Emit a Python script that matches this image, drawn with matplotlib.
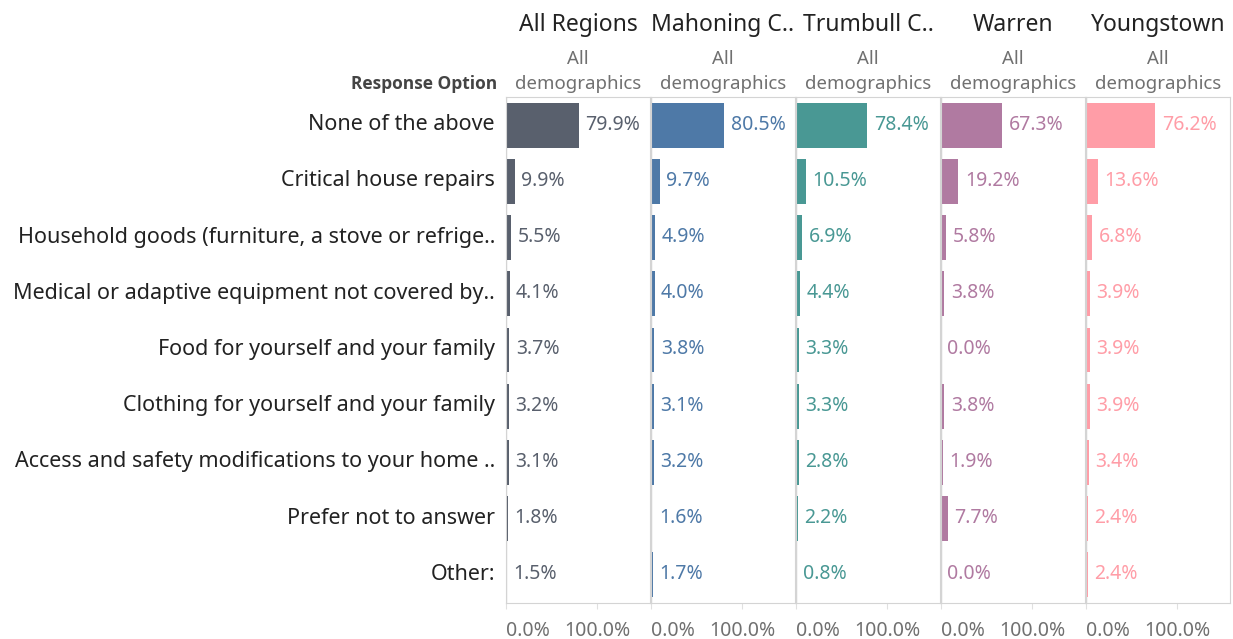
import matplotlib.pyplot as plt
import numpy as np
from matplotlib.transforms import ScaledTranslation

plt.rcParams['font.family'] = ['Noto Sans', 'DejaVu Sans']

# categories (top to bottom) and panel data
options = ['None of the above', 'Critical house repairs',
           'Household goods (furniture, a stove or refrige..',
           'Medical or adaptive equipment not covered by..',
           'Food for yourself and your family',
           'Clothing for yourself and your family',
           'Access and safety modifications to your home ..',
           'Prefer not to answer', 'Other:']
regions = ['All Regions', 'Mahoning C..', 'Trumbull C..', 'Warren', 'Youngstown']
all_regions = [79.9, 9.9, 5.5, 4.1, 3.7, 3.2, 3.1, 1.8, 1.5]
mahoning = [80.5, 9.7, 4.9, 4.0, 3.8, 3.1, 3.2, 1.6, 1.7]
trumbull = [78.4, 10.5, 6.9, 4.4, 3.3, 3.3, 2.8, 2.2, 0.8]
warren = [67.3, 19.2, 5.8, 3.8, 0.0, 3.8, 1.9, 7.7, 0.0]
youngstown = [76.2, 13.6, 6.8, 3.9, 3.9, 3.9, 3.4, 2.4, 2.4]
colors = ['#59606d', '#4e79a7', '#499894', '#b07aa1', '#ff9da7']
series = [all_regions, mahoning, trumbull, warren, youngstown]

W, H = 1233, 639
fig = plt.figure(figsize=(W / 100, H / 100), dpi=100)

top_px, bot_px = 97, 603
x0_px, panel_w, pitch = 506, 144, 145
xmax = panel_w / 91.0  # 100% spans ~91 px
y = np.arange(len(options))
up = ScaledTranslation(0, 0.005, fig.dpi_scale_trans)  # tiny nudge up

for i, (name, vals, col) in enumerate(zip(regions, series, colors)):
    left = x0_px + i * pitch
    ax = fig.add_axes([left / W, 1 - bot_px / H, panel_w / W, (bot_px - top_px) / H])
    v = np.array(vals) / 100.0
    ax.barh(y, v, height=0.8, color=col)
    for yi, val in zip(y, vals):
        ax.text(val / 100.0 + 0.07, yi, f'{val:.1f}%', va='center', ha='left',
                color=col, fontsize=14, transform=ax.transData + up)
    ax.set_xlim(0, xmax)
    ax.set_ylim(len(options) - 0.5, -0.5)
    ax.axvline(0, color='#d4d4d4', lw=1, zorder=0)
    for s in ['top', 'bottom', 'left', 'right']:
        ax.spines[s].set_color('#d4d4d4')
    ax.set_xticks([0, 1])
    ax.set_xticklabels(['0.0%', '100.0%'], color='#707070', fontsize=14)
    ax.get_xticklabels()[0].set_ha('left')
    ax.tick_params(axis='x', length=4, color='#e0e0e0', pad=9)
    if i == 0:
        ax.set_yticks(y)
        ax.set_yticklabels(options, fontsize=15.5, color='#222222', va='center')
        ax.tick_params(axis='y', length=0, pad=8)
        for lab in ax.get_yticklabels():
            lab.set_transform(lab.get_transform() + up)
    else:
        ax.set_yticks([])
    cx = (left + panel_w / 2) / W
    fig.text(cx, 1 - 22 / H, name, ha='center', va='center_baseline', fontsize=16.5, color='#222222')
    fig.text(cx, 1 - 57 / H, 'All', ha='center', va='center_baseline', fontsize=13.4, color='#707070')
    fig.text(cx, 1 - 82 / H, 'demographics', ha='center', va='center_baseline', fontsize=13.4, color='#707070')

fig.text(497 / W, 1 - 82 / H, 'Response Option', ha='right', va='center_baseline',
         fontsize=12.5, fontweight='bold', color='#444444',
         family=['Open Sans', 'DejaVu Sans'])

fig.savefig('out.png', dpi=100, facecolor='white')
